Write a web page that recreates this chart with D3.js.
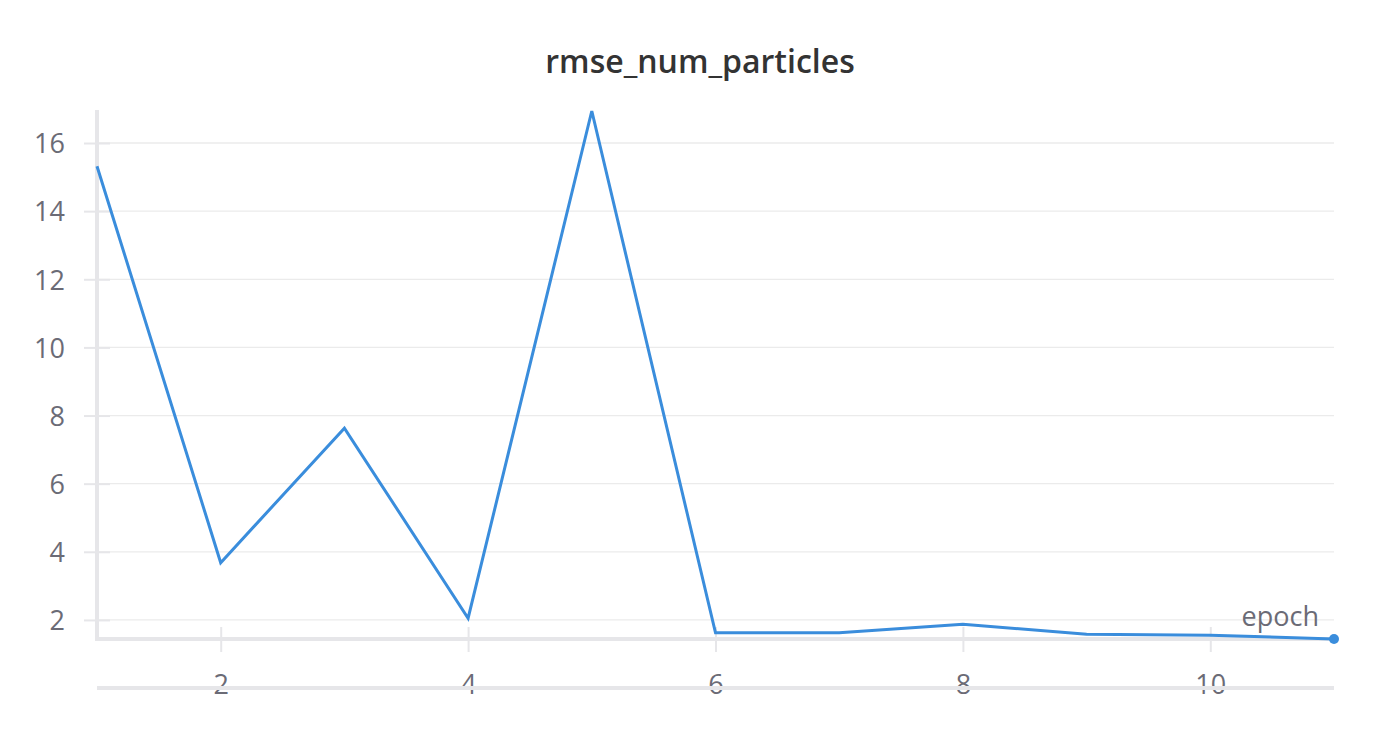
<!DOCTYPE html>
<html><head><meta charset="utf-8">
<script src="https://cdn.jsdelivr.net/npm/d3@7"></script>
<style>
html,body{margin:0;padding:0;background:#fff;}
svg{display:block;}
</style></head>
<body>
<svg id="chart" width="1400" height="735"></svg>
<script>
const title = "rmse_num_particles";
const xLabel = "epoch";
const epochs = [1, 2, 3, 4, 5, 6, 7, 8, 9, 10, 11];
const rmse = [15.32, 3.68, 7.63, 2.05, 16.94, 1.62, 1.62, 1.87, 1.58, 1.55, 1.44];
const yTicks = [2, 4, 6, 8, 10, 12, 14, 16];
const xTicks = [2, 4, 6, 8, 10];

(function () {
const plotL = 97, plotR = 1334, plotT = 111, plotB = 639;
const font = "'Open Sans', 'Noto Sans', sans-serif";
const axisGray = "#e6e6e9";
const textGray = "#6b6b76";
const blue = "#3a8ddc";

const svg = d3.select("#chart");
const x = d3.scaleLinear().domain(d3.extent(epochs)).range([plotL, plotR]);
const y = d3.scaleLinear().domain(d3.extent(rmse)).range([plotB, plotT]);

// title
svg.append("text").attr("x", 700).attr("y", 73).attr("text-anchor", "middle")
  .attr("font-family", font).attr("font-size", 32).attr("font-weight", 600)
  .attr("fill", "#333").text(title);

// gridlines
svg.append("g").selectAll("line").data(yTicks).join("line")
  .attr("x1", plotL).attr("x2", plotR)
  .attr("y1", d => y(d)).attr("y2", d => y(d))
  .attr("stroke", "#ebebeb").attr("stroke-width", 1.3);

// y axis
const yAxis = d3.axisLeft(y).tickValues(yTicks).tickSize(13).tickPadding(17);
const yg = svg.append("g").attr("transform", `translate(${plotL},0)`).call(yAxis);
yg.select(".domain").remove();
yg.selectAll(".tick line").attr("stroke", axisGray).attr("stroke-width", 2).attr("x2", 13).attr("x1", -13);
yg.selectAll(".tick text").attr("font-family", font).attr("font-size", 27).attr("fill", textGray).attr("x", -32).attr("dy", "0.36em");
svg.append("line").attr("x1", plotL).attr("x2", plotL).attr("y1", 110).attr("y2", plotB + 2)
  .attr("stroke", axisGray).attr("stroke-width", 4);

// x axis
svg.append("line").attr("x1", plotL).attr("x2", plotR).attr("y1", plotB).attr("y2", plotB)
  .attr("stroke", axisGray).attr("stroke-width", 4);
const xAxis = d3.axisBottom(x).tickValues(xTicks).tickSize(0).tickPadding(0);
const xg = svg.append("g").attr("transform", `translate(0,${plotB})`).call(xAxis);
xg.select(".domain").remove();
xg.selectAll(".tick").append("line").attr("y1", -12).attr("y2", 13)
  .attr("stroke", axisGray).attr("stroke-width", 2);
// lower rule
svg.append("line").attr("x1", plotL).attr("x2", plotR).attr("y1", 688).attr("y2", 688)
  .attr("stroke", axisGray).attr("stroke-width", 4);
xg.selectAll(".tick text").attr("font-family", font).attr("font-size", 27).attr("fill", textGray)
  .attr("y", 55).attr("dy", 0);

// line
const line = d3.line().x((d, i) => x(epochs[i])).y(d => y(d));
svg.append("path").datum(rmse).attr("d", line).attr("fill", "none")
  .attr("stroke", blue).attr("stroke-width", 3).attr("stroke-linejoin", "miter");

// end point
svg.append("circle").attr("cx", x(epochs[epochs.length - 1])).attr("cy", y(rmse[rmse.length - 1]))
  .attr("r", 5).attr("fill", blue);

// x label
svg.append("text").attr("x", 1319).attr("y", 626).attr("text-anchor", "end")
  .attr("font-family", font).attr("font-size", 27).attr("fill", textGray).text(xLabel);
})();
</script>
</body></html>
